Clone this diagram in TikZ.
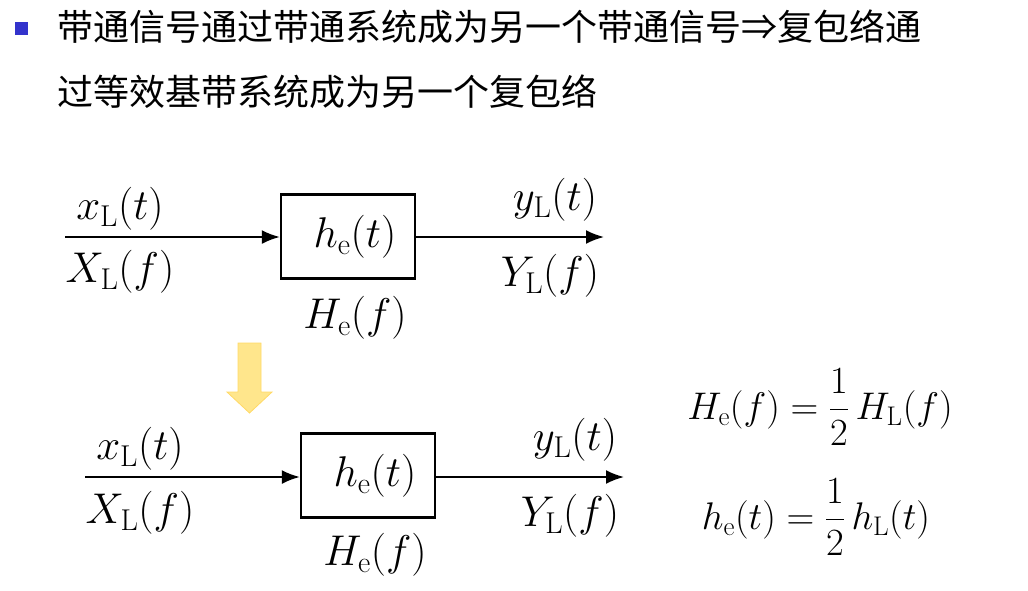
\RequirePackage{fix-cm}
\documentclass[tikz,border=0pt]{standalone}
\usepackage{fontspec}
\newfontfamily\cjk{Noto Sans CJK SC}
\usetikzlibrary{arrows.meta}
\begin{document}
\begin{tikzpicture}[x=1pt,y=-1pt,
  sig/.style={line width=2pt,-{Latex[length=18pt,width=14pt]}},
  sysbox/.style={draw,line width=2.4pt,minimum width=134pt,minimum height=84pt,inner sep=0pt},
  lab/.style={font=\fontsize{43}{45}\selectfont,inner sep=0pt},
  eq/.style={font=\fontsize{38.5}{42}\selectfont,inner sep=0pt},
  title/.style={font=\cjk\fontsize{36}{40}\selectfont,anchor=west,inner sep=0pt}]
\useasboundingbox (0,0) rectangle (1028,590);
% title
\node[fill={rgb,255:red,51;green,51;blue,204},minimum size=13pt,inner sep=0pt] (bul) at (21,28) {};
\node[title] (t1) at (57,27) {带通信号通过带通系统成为另一个带通信号⇒复包络通};
\node[title] (t2) at (57,92) {过等效基带系统成为另一个复包络};
% diagram 1
\coordinate (in1) at (65,237);
\node[sysbox] (b1) at (348,236.5) {};
\coordinate (out1) at (604,237);
\draw[sig] (in1) -- (b1.west|-in1);
\draw[sig] (b1.east|-in1) -- (out1);
\node[lab] (h1) at (355,237) {$h_{\mathrm{e}}(t)$};
\node[lab] (x1) at (120,209) {$x_{\mathrm{L}}(t)$};
\node[lab] (X1) at (120,272) {$X_{\mathrm{L}}(f)$};
\node[lab] (y1) at (555,200) {$y_{\mathrm{L}}(t)$};
\node[lab] (Y1) at (550,276) {$Y_{\mathrm{L}}(f)$};
\node[lab] (H1) at (355,318) {$H_{\mathrm{e}}(f)$};
% yellow arrow
\fill[fill={rgb,255:red,255;green,230;blue,140},draw={rgb,255:red,255;green,217;blue,102},line width=0.8pt]
  (238,343) -- (261,343) -- (261,392) -- (272,392) -- (249.5,413) -- (227,392) -- (238,392) -- cycle;
% diagram 2
\coordinate (in2) at (85,477);
\node[sysbox] (b2) at (368,475.5) {};
\coordinate (out2) at (624,477);
\draw[sig] (in2) -- (b2.west|-in2);
\draw[sig] (b2.east|-in2) -- (out2);
\node[lab] (h2) at (375,476) {$h_{\mathrm{e}}(t)$};
\node[lab] (x2) at (140,449) {$x_{\mathrm{L}}(t)$};
\node[lab] (X2) at (140,513) {$X_{\mathrm{L}}(f)$};
\node[lab] (y2) at (575,440) {$y_{\mathrm{L}}(t)$};
\node[lab] (Y2) at (570,516) {$Y_{\mathrm{L}}(f)$};
\node[lab] (H2) at (375,555) {$H_{\mathrm{e}}(f)$};
% equations
\node[eq] (e1) at (820,407) {$\displaystyle H_{\mathrm{e}}(f)=\frac{1}{2}\,H_{\mathrm{L}}(f)$};
\node[eq] (e2) at (816,517) {$\displaystyle h_{\mathrm{e}}(t)=\frac{1}{2}\,h_{\mathrm{L}}(t)$};
\end{tikzpicture}
\end{document}
